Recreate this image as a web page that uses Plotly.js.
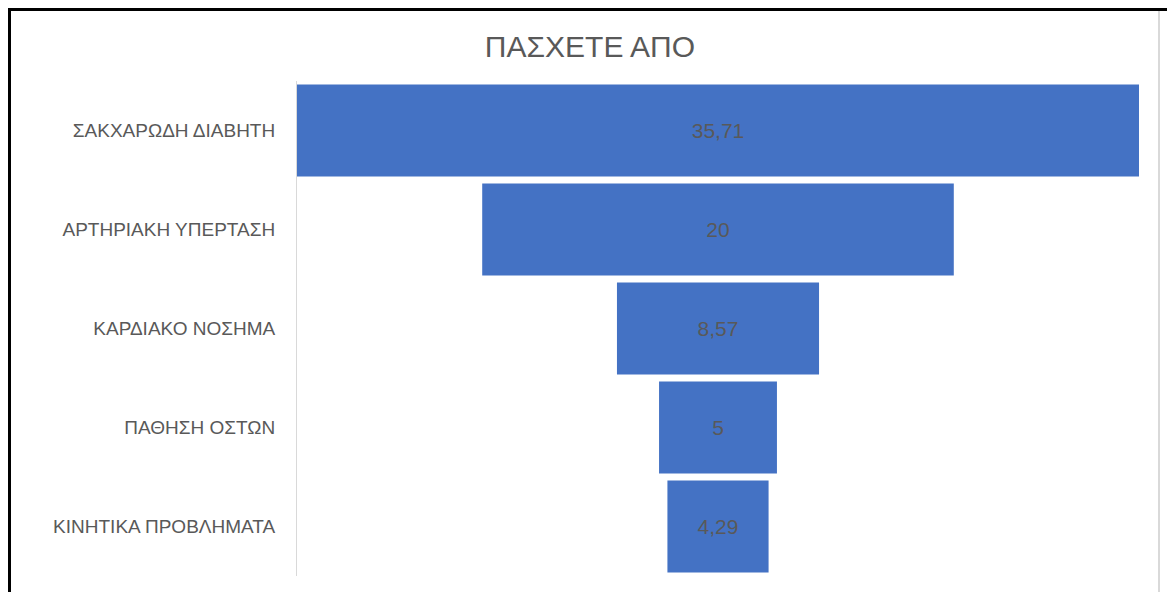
<!DOCTYPE html>
<html>
<head>
<meta charset="utf-8">
<script src="https://cdn.plot.ly/plotly-3.0.1.min.js"></script>
<style>
  html, body { margin: 0; padding: 0; background: #ffffff; }
  #wrap { position: relative; width: 1167px; height: 592px; overflow: hidden; }
  #chart { position: absolute; left: 0; top: 0; width: 1167px; height: 592px; }
  #frameTop { position: absolute; left: 8px; top: 8px; width: 1159px; height: 0; border-top: 3px solid #000; }
  #frameLeft { position: absolute; left: 8px; top: 8px; width: 0; height: 584px; border-left: 3px solid #000; }
  #frameRight { position: absolute; left: 1158px; top: 11px; width: 0; height: 581px; border-left: 2px solid #d9d9d9; }
</style>
</head>
<body>
<div id="wrap">
  <div id="chart"></div>
  <div id="frameTop"></div>
  <div id="frameLeft"></div>
  <div id="frameRight"></div>
</div>
<script>
const categories = [
  "ΣΑΚΧΑΡΩΔΗ ΔΙΑΒΗΤΗ",
  "ΑΡΤΗΡΙΑΚΗ ΥΠΕΡΤΑΣΗ",
  "ΚΑΡΔΙΑΚΟ ΝΟΣΗΜΑ",
  "ΠΑΘΗΣΗ ΟΣΤΩΝ",
  "ΚΙΝΗΤΙΚΑ ΠΡΟΒΛΗΜΑΤΑ"
];
const values = [35.71, 20, 8.57, 5, 4.29];
const chartTitle = "ΠΑΣΧΕΤΕ ΑΠΟ";

const labels = values.map(v => String(v).replace('.', ','));
const maxV = Math.max(...values);

const trace = {
  type: 'funnel',
  y: categories,
  x: values,
  text: labels,
  texttemplate: '%{text}',
  textposition: 'inside',
  insidetextanchor: 'middle',
  textfont: { family: 'Liberation Sans, Arial, sans-serif', size: 21, color: '#595959' },
  marker: { color: '#4472c4', line: { width: 0 } },
  connector: { visible: false },
  hoverinfo: 'none'
};

const layout = {
  width: 1167,
  height: 592,
  margin: { l: 297, r: 28, t: 81, b: 16, pad: 0 },
  paper_bgcolor: '#ffffff',
  plot_bgcolor: '#ffffff',
  showlegend: false,
  funnelgap: 0.07,
  separators: ',.',
  font: { family: 'Liberation Sans, Arial, sans-serif', color: '#595959' },
  title: {
    text: chartTitle,
    font: { family: 'Liberation Sans, Arial, sans-serif', size: 30, color: '#595959' },
    xref: 'container', yref: 'container',
    x: 590 / 1167, y: 1 - 46 / 592,
    xanchor: 'center', yanchor: 'middle'
  },
  xaxis: {
    visible: false,
    range: [-maxV / 2, maxV / 2],
    fixedrange: true
  },
  yaxis: {
    type: 'category',
    showline: true,
    linecolor: '#d9d9d9',
    linewidth: 1,
    showgrid: false,
    zeroline: false,
    ticks: '',
    ticklabelstandoff: 17,
    tickfont: { family: 'Liberation Sans, Arial, sans-serif', size: 19, color: '#595959' },
    fixedrange: true
  }
};

Plotly.newPlot('chart', [trace], layout, { displayModeBar: false, staticPlot: true });
</script>
</body>
</html>
